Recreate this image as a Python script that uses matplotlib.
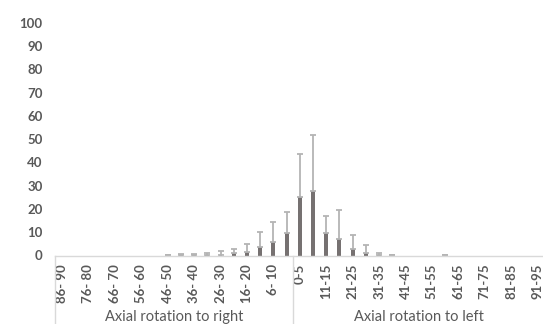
import numpy as np
import matplotlib.pyplot as plt
from matplotlib.transforms import blended_transform_factory

# right rotation categories (far right -> centre), then left rotation (centre -> far left)
right_cats = ["86- 90", "81- 85", "76- 80", "71- 75", "66- 70", "61- 65", "56- 60",
              "51- 55", "46- 50", "41- 45", "36- 40", "31- 35", "26- 30", "21- 25",
              "16- 20", "11- 15", "6- 10", "0- 5"]
left_cats = ["0-5", "6-10", "11-15", "16-20", "21-25", "26-30", "31-35", "36-40",
             "41-45", "46-50", "51-55", "56-60", "61-65", "66-70", "71-75", "76-80",
             "81-85", "86-90", "91-95"]

right_mean = [0, 0, 0, 0, 0, 0, 0, 0, 0.05, 0.05, 0.1, 0.2, 0.4, 0.9, 1.4, 3.6, 5.9, 9.6]
right_err = [0, 0, 0, 0, 0, 0, 0, 0, 0.3, 0.4, 0.5, 0.8, 1.5, 2.0, 3.5, 6.3, 8.6, 9.2]
left_mean = [25.3, 27.7, 9.6, 7.0, 3.0, 1.1, 0.2, 0.05, 0, 0, 0, 0.05, 0, 0, 0, 0, 0, 0, 0]
left_err = [18.2, 24.0, 7.2, 12.4, 6.0, 3.3, 0.9, 0.2, 0, 0, 0, 0.3, 0, 0, 0, 0, 0, 0, 0]

group_names = ["Axial rotation to right", "Axial rotation to left"]

cats = right_cats + left_cats
means = np.array(right_mean + left_mean)
errs = np.array(right_err + left_err)
x = np.arange(len(cats))

plt.rcParams["font.family"] = ["Lato", "DejaVu Sans"]
text_col = "#595959"

fig = plt.figure(figsize=(5.43, 3.24), dpi=100)
ax = fig.add_axes([55.3 / 543, 68.5 / 324, 489 / 543, 232.8 / 324])

ax.bar(x, means, width=0.3, color="#767171", zorder=2)
# zero error bars sit on the axis line in the original, so skip them
m = (errs > 0) | (means > 0)
ax.errorbar(x[m], means[m], yerr=[np.zeros(m.sum()), errs[m]], fmt="none",
            ecolor="#B4B4B4", elinewidth=1.3, capsize=2.3, capthick=1.3, zorder=3)

ax.set_xlim(-0.5, len(cats) - 0.5)
ax.set_ylim(0, 100)
ax.set_yticks(range(0, 101, 10))
ax.tick_params(axis="y", length=0, pad=9, labelsize=9.5, labelcolor=text_col)
for lab in ax.get_yticklabels():
    lab.set_fontweight("bold")

ax.set_xticks(x[::2])
ax.set_xticklabels(cats[::2], rotation=90, fontsize=9.5, fontweight="bold",
                   color=text_col, va="top")
ax.tick_params(axis="x", length=0, pad=6)

for s in ["top", "right", "left"]:
    ax.spines[s].set_visible(False)
ax.spines["bottom"].set_color("#D9D9D9")
ax.spines["bottom"].set_linewidth(1)
ax.spines["bottom"].set_zorder(4)

# multi-level category box lines and group labels
tr = blended_transform_factory(ax.transData, ax.transAxes)
n_right = len(right_cats)
for xv in [-0.5, n_right - 0.5, len(cats) - 0.5]:
    ax.plot([xv, xv], [0, -0.3], transform=tr, color="#D9D9D9", lw=1, clip_on=False)
ax.text((n_right - 1) / 2, -0.265, group_names[0], transform=tr, ha="center",
        va="center", fontsize=10.5, color=text_col)
ax.text(n_right + (len(left_cats) - 1) / 2, -0.265, group_names[1], transform=tr,
        ha="center", va="center", fontsize=10.5, color=text_col)

fig.savefig("out.png", dpi=100)
